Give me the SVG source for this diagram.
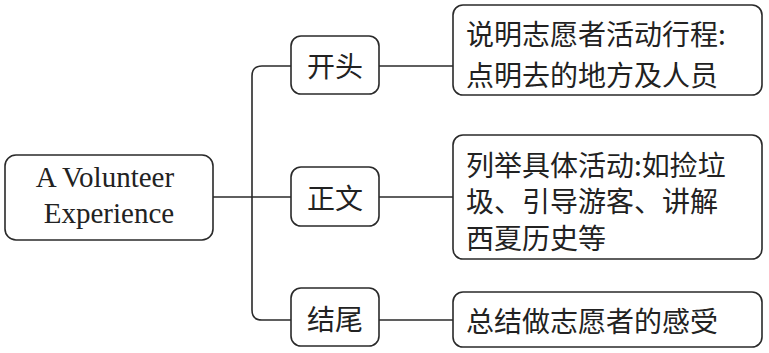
<svg xmlns="http://www.w3.org/2000/svg" width="769" height="353" viewBox="0 0 769 353">
<style>
.box{fill:#fff;stroke:#2a2a2a;stroke-width:1.6}
.ln{fill:none;stroke:#2a2a2a;stroke-width:1.6}
.en{font-family:"Liberation Serif","Times New Roman",serif;font-size:29px;fill:#222;text-anchor:middle}
.zh{font-family:"Noto Sans CJK SC","Noto Sans CJK JP",sans-serif;font-size:28px;fill:#222;dominant-baseline:central}
.mid{text-anchor:middle}
</style>
<rect width="769" height="353" fill="#fff"/>
<g id="connectors">
<path class="ln" d="M213 197 H292"/>
<path class="ln" d="M292 66 H262 Q252 66 252 76 V310 Q252 320 262 320 H292"/>
<path class="ln" d="M379 66 H453"/>
<path class="ln" d="M379 197 H453"/>
<path class="ln" d="M379 320 H453"/>
</g>
<g id="root">
<rect class="box" x="5" y="155" width="208" height="85" rx="11"/>
<text class="en" x="105" y="187">A Volunteer</text>
<text class="en" x="109" y="223">Experience</text>
</g>
<g id="kaitou">
<rect class="box" x="291" y="36" width="88" height="58" rx="10"/>
<text class="zh mid" x="335" y="65">开头</text>
</g>
<g id="zhengwen">
<rect class="box" x="291" y="167" width="88" height="59" rx="10"/>
<text class="zh mid" x="335" y="197">正文</text>
</g>
<g id="jiewei">
<rect class="box" x="291" y="288" width="88" height="58" rx="10"/>
<text class="zh mid" x="335" y="318">结尾</text>
</g>
<g id="detail1">
<rect class="box" x="453" y="5" width="309" height="90" rx="10"/>
<text class="zh" x="466" y="32.5">说明志愿者活动行程:</text>
<text class="zh" x="466" y="74">点明去的地方及人员</text>
</g>
<g id="detail2">
<rect class="box" x="453" y="135" width="309" height="124" rx="10"/>
<text class="zh" x="466" y="163.5">列举具体活动:如捡垃</text>
<text class="zh" x="466" y="200">圾、引导游客、讲解</text>
<text class="zh" x="466" y="236.5">西夏历史等</text>
</g>
<g id="detail3">
<rect class="box" x="453" y="292" width="309" height="55" rx="10"/>
<text class="zh" x="466" y="319.5">总结做志愿者的感受</text>
</g>
</svg>
